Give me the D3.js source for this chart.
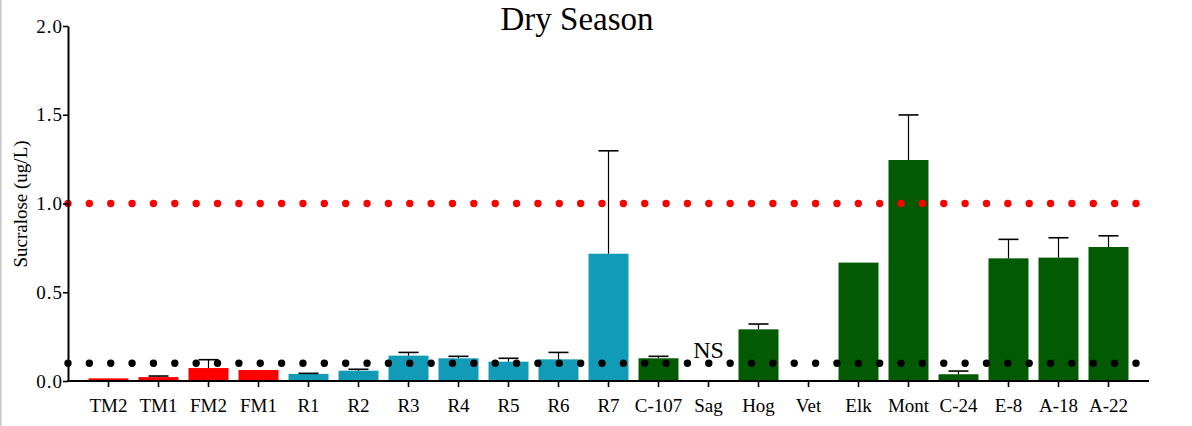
<!DOCTYPE html>
<html>
<head>
<meta charset="utf-8">
<script src="https://cdn.jsdelivr.net/npm/d3@7"></script>
<style>
  body { margin: 0; background: #fff; }
  svg { display: block; font-family: "Liberation Serif", "Times New Roman", serif; }
</style>
</head>
<body>
<svg id="chart" width="1192" height="426"></svg>
<script>
// sites, in plot order
var sites = ["TM2", "TM1", "FM2", "FM1", "R1", "R2", "R3", "R4", "R5", "R6", "R7",
  "C-107", "Sag", "Hog", "Vet", "Elk", "Mont", "C-24", "E-8", "A-18", "A-22"];
// mean sucralose (ug/L), null = not sampled / not shown
var means = [0.015, 0.022, 0.073, 0.062, 0.04, 0.058, 0.143, 0.128, 0.109, 0.122, 0.717,
  0.128, null, 0.291, null, 0.667, 1.245, 0.038, 0.691, 0.695, 0.755];
// upper error bar end (mean + sd), null = none drawn
var upper = [null, 0.028, 0.12, null, 0.043, 0.066, 0.161, 0.139, 0.128, 0.161, 1.297,
  0.139, null, 0.321, null, null, 1.499, 0.056, 0.798, 0.807, 0.818];
// site group -> colour
var groups = ["red", "red", "red", "red", "teal", "teal", "teal", "teal", "teal", "teal", "teal",
  "green", "green", "green", "green", "green", "green", "green", "green", "green", "green"];
var yTicks = [0, 0.5, 1.0, 1.5, 2.0];
var refLines = [{ v: 1.0, c: "#ff0000" }, { v: 0.1, c: "#000000" }];

var colors = { red: "#fe0000", teal: "#129bb6", green: "#025a03" };

var svg = d3.select("#chart");

// grey frame edge on the left
svg.append("rect").attr("x", 0).attr("y", 0).attr("width", 1.5).attr("height", 426).attr("fill", "#c6c6c6");

var x = d3.scaleBand().domain(sites).range([68, 1149]).paddingInner(0.2).paddingOuter(0.41);
var y = d3.scaleLinear().domain([0, 2]).range([381, 26]);

// bars
svg.append("g").selectAll("rect")
  .data(sites.map(function (s, i) { return { s: s, v: means[i], g: groups[i] }; }).filter(function (d) { return d.v != null; }))
  .join("rect")
  .attr("x", function (d) { return x(d.s); })
  .attr("width", x.bandwidth())
  .attr("y", function (d) { return y(d.v); })
  .attr("height", function (d) { return y(0) - y(d.v); })
  .attr("fill", function (d) { return colors[d.g]; });

// error bars (upper only)
var errs = sites.map(function (s, i) { return { s: s, m: means[i], u: upper[i] }; })
  .filter(function (d) { return d.u != null; });
var eg = svg.append("g").attr("stroke", "#000");
eg.selectAll("line.v").data(errs).join("line").attr("class", "v")
  .attr("x1", function (d) { return x(d.s) + x.bandwidth() / 2; })
  .attr("x2", function (d) { return x(d.s) + x.bandwidth() / 2; })
  .attr("y1", function (d) { return y(d.m); })
  .attr("y2", function (d) { return y(d.u); })
  .attr("stroke-width", 1.2);
eg.selectAll("line.c").data(errs).join("line").attr("class", "c")
  .attr("x1", function (d) { return x(d.s) + x.bandwidth() / 2 - 10; })
  .attr("x2", function (d) { return x(d.s) + x.bandwidth() / 2 + 10; })
  .attr("y1", function (d) { return y(d.u); })
  .attr("y2", function (d) { return y(d.u); })
  .attr("stroke-width", 1.6);

// dotted reference lines
svg.append("g").selectAll("line")
  .data(refLines)
  .join("line")
  .attr("x1", 68).attr("x2", 1137)
  .attr("y1", function (d) { return y(d.v); })
  .attr("y2", function (d) { return y(d.v); })
  .attr("stroke", function (d) { return d.c; })
  .attr("stroke-width", 7.4)
  .attr("stroke-linecap", "round")
  .attr("stroke-dasharray", "0 21.36");

// axes
var xAxis = svg.append("g")
  .attr("transform", "translate(0," + y(0) + ")")
  .call(d3.axisBottom(x).tickSize(6).tickSizeOuter(0));
xAxis.select(".domain").attr("stroke-width", 2).attr("d", "M67,0H1149");
xAxis.selectAll(".tick line").attr("stroke-width", 1.6);
xAxis.selectAll("text").attr("font-size", 19).attr("font-family", "Liberation Serif").attr("fill", "#000").attr("dy", "1.15em");

var yAxis = svg.append("g")
  .attr("transform", "translate(68,0)")
  .call(d3.axisLeft(y).tickValues(yTicks).tickFormat(d3.format(".1f")).tickSize(5).tickSizeOuter(0));
yAxis.select(".domain").attr("stroke-width", 2);
yAxis.selectAll(".tick line").attr("stroke-width", 1.6);
yAxis.selectAll("text").attr("font-size", 19).attr("letter-spacing", 1).attr("font-family", "Liberation Serif").attr("fill", "#000").attr("x", -5);

// NS marker over Sag
svg.append("text")
  .attr("x", x("Sag") + x.bandwidth() / 2)
  .attr("y", y(0.13))
  .attr("text-anchor", "middle")
  .attr("font-size", 24)
  .text("NS");

// titles
svg.append("text")
  .attr("x", 577).attr("y", 29.5)
  .attr("text-anchor", "middle")
  .attr("font-size", 33)
  .text("Dry Season");

svg.append("text")
  .attr("transform", "translate(27,204) rotate(-90)")
  .attr("text-anchor", "middle")
  .attr("font-size", 19)
  .text("Sucralose (ug/L)");
</script>
</body>
</html>
